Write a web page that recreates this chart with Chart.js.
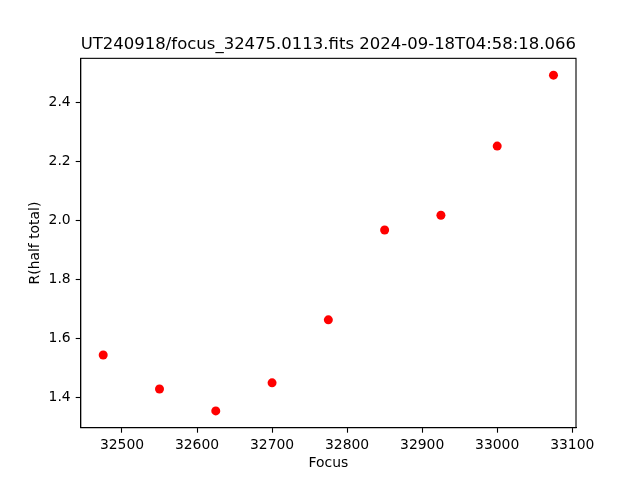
<!DOCTYPE html>
<html>
<head>
<meta charset="utf-8">
<script src="https://cdn.jsdelivr.net/npm/chart.js@4.4.1/dist/chart.umd.min.js"></script>
<style>
  html, body { margin: 0; padding: 0; background: #fff; }
  #wrap { width: 640px; height: 480px; }
</style>
</head>
<body>
<div id="wrap"><canvas id="c" width="640" height="480"></canvas></div>
<script>
const focusValues = [32475, 32550, 32625, 32700, 32775, 32850, 32925, 33000, 33075];
const radiusValues = [1.544, 1.429, 1.355, 1.450, 1.663, 1.967, 2.017, 2.251, 2.491];
const xTicks = [32500, 32600, 32700, 32800, 32900, 33000, 33100];
const yTicks = [1.4, 1.6, 1.8, 2.0, 2.2, 2.4];
const titleText = 'UT240918/focus_32475.0113.fits 2024-09-18T04:58:18.066';

const points = focusValues.map((x, i) => ({ x: x, y: radiusValues[i] }));
const xSpan = Math.max(...focusValues) - Math.min(...focusValues);
const ySpan = Math.max(...radiusValues) - Math.min(...radiusValues);

const frame = {
  id: 'frame',
  afterDraw(chart) {
    const a = chart.chartArea, ctx = chart.ctx;
    ctx.save();
    ctx.strokeStyle = '#000';
    ctx.lineWidth = 1.1;
    ctx.strokeRect(a.left, a.top, a.right - a.left, a.bottom - a.top);
    ctx.restore();
  }
};

const fontFam = "'DejaVu Sans', sans-serif";

new Chart(document.getElementById('c'), {
  type: 'scatter',
  data: {
    datasets: [{
      data: points,
      backgroundColor: '#ff0000',
      borderWidth: 0,
      pointRadius: 4.5,
      pointHoverRadius: 4.5
    }]
  },
  options: {
    responsive: false,
    animation: false,
    layout: { padding: { left: 0, right: 64, top: 0, bottom: 0 } },
    plugins: {
      legend: { display: false },
      tooltip: { enabled: false },
      title: {
        display: true,
        text: titleText,
        fullSize: false,
        color: '#000',
        font: { family: fontFam, size: 16.7, weight: 'normal', lineHeight: 1.2 },
        padding: { top: 34.5, bottom: 3.8 }
      }
    },
    scales: {
      x: {
        type: 'linear',
        min: Math.min(...focusValues) - 0.05 * xSpan,
        max: Math.max(...focusValues) + 0.05 * xSpan,
        afterBuildTicks: (s) => { s.ticks = xTicks.map(v => ({ value: v })); },
        afterFit: (s) => { s.height = 52.3; },
        grid: { drawOnChartArea: false, drawTicks: true, tickLength: 5, tickColor: '#000', tickWidth: 1.1 },
        border: { display: true, color: '#000', width: 1.1 },
        ticks: {
          color: '#000', padding: 4, maxRotation: 0, autoSkip: false,
          font: { family: fontFam, size: 13.9 },
          callback: (v) => String(v)
        },
        title: {
          display: true, text: 'Focus', color: '#000',
          font: { family: fontFam, size: 13.9 },
          padding: { top: 0, bottom: 8 }
        }
      },
      y: {
        type: 'linear',
        min: Math.min(...radiusValues) - 0.05 * ySpan,
        max: Math.max(...radiusValues) + 0.05 * ySpan,
        afterBuildTicks: (s) => { s.ticks = yTicks.map(v => ({ value: v })); },
        afterFit: (s) => { s.width = 80.7; },
        grid: { drawOnChartArea: false, drawTicks: true, tickLength: 5, tickColor: '#000', tickWidth: 1.1 },
        border: { display: true, color: '#000', width: 1.1 },
        ticks: {
          color: '#000', padding: 5, autoSkip: false,
          font: { family: fontFam, size: 13.9 },
          callback: (v) => v.toFixed(1)
        },
        title: {
          display: true, text: 'R(half total)', color: '#000',
          font: { family: fontFam, size: 13.9 },
          padding: { top: 27.5, bottom: 0 }
        }
      }
    }
  },
  plugins: [frame]
});
</script>
</body>
</html>
